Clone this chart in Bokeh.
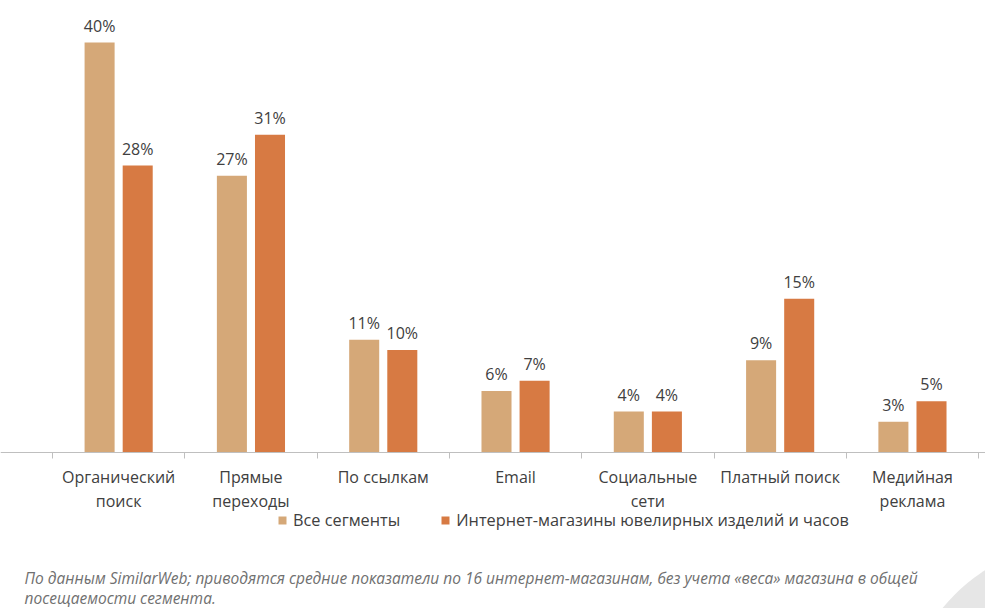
from bokeh.plotting import figure
from bokeh.models import (ColumnDataSource, Range1d, FixedTicker, Legend, LegendItem, Label)
from bokeh.core.properties import value
from bokeh.embed import file_html
from bokeh.resources import INLINE

categories = ["Органический\nпоиск", "Прямые\nпереходы", "По ссылкам", "Email",
              "Социальные\nсети", "Платный поиск", "Медийная\nреклама"]
all_segments = [40, 27, 11, 6, 4, 9, 3]
jewelry = [28, 31, 10, 7, 4, 15, 5]
series_names = ["Все сегменты", "Интернет-магазины ювелирных изделий и часов"]
footnote_1 = "По данным SimilarWeb; приводятся средние показатели по 16 интернет-магазинам, без учета «веса» магазина в общей"
footnote_2 = "посещаемости сегмента."

C1 = "#D5A878"
C2 = "#D77A43"
TXT = "#404040"
FONT = "Open Sans"

W, H = 985, 608
PX_X = 132.3      # pixels per category
PX_Y = 10.25      # pixels per percent
LEFT = 52         # px of x=0
BASE = 452        # px (from top) of y=0

n = len(categories)
centers = [i + 0.5 for i in range(n)]
off = 0.144
w = 0.227

src = ColumnDataSource(dict(
    x1=[c - off for c in centers], x2=[c + off for c in centers],
    y1=all_segments, y2=jewelry,
    t1=[f"{v}%" for v in all_segments], t2=[f"{v}%" for v in jewelry],
))

p = figure(width=W, height=H, output_backend="svg", toolbar_location=None,
           x_range=Range1d(-LEFT / PX_X, (W - LEFT) / PX_X),
           y_range=Range1d(-(H - BASE) / PX_Y, BASE / PX_Y),
           min_border=0)
p.outline_line_color = None
p.grid.visible = False
p.yaxis.visible = False

# decorative circle, bottom right
p.circle(x=(1080 - LEFT) / PX_X, y=(BASE - 720) / PX_Y, radius=178,
         radius_units="screen", fill_color="#E6E6E6", line_color=None)

r1 = p.vbar(x="x1", top="y1", width=w, bottom=0, source=src, color=C1, line_color=None)
r2 = p.vbar(x="x2", top="y2", width=w, bottom=0, source=src, color=C2, line_color=None)

for xc, yc, tc in (("x1", "y1", "t1"), ("x2", "y2", "t2")):
    p.text(x=xc, y=yc, text=tc, source=src,
           text_align="center", text_baseline="bottom", y_offset=-6,
           text_font=value(FONT), text_font_size="16px", text_color=TXT)

ax = p.xaxis[0]
ax.fixed_location = 0
ax.ticker = FixedTicker(ticks=centers, minor_ticks=list(range(n + 1)))
ax.major_label_overrides = {c: lab for c, lab in zip(centers, categories)}
ax.major_tick_line_color = None
ax.minor_tick_in = 0
ax.minor_tick_out = 6
ax.minor_tick_line_color = "#BFBFBF"
ax.axis_line_color = "#BFBFBF"
ax.major_label_standoff = 7
ax.major_label_text_font = FONT
ax.major_label_text_font_size = "16px"
ax.major_label_text_color = TXT
ax.major_label_text_line_height = 1.1

legend = Legend(items=[LegendItem(label=series_names[0], renderers=[r1]),
                       LegendItem(label=series_names[1], renderers=[r2])],
                orientation="horizontal", location=(277, 77),
                label_text_font=FONT, label_text_font_size="16.3px",
                label_text_color=TXT, glyph_width=10, glyph_height=10,
                spacing=40, padding=0, margin=0, label_standoff=6,
                border_line_color=None, background_fill_alpha=0)
p.add_layout(legend, "center")

for txt, yy in ((footnote_1, 31), (footnote_2, 11)):
    p.add_layout(Label(x=24, y=yy, x_units="screen", y_units="screen", text=txt,
                       text_font=FONT, text_font_size="15.5px", text_font_style="italic",
                       text_color="#707070", text_baseline="middle"))

open("out.html", "w").write(file_html(p, INLINE))
